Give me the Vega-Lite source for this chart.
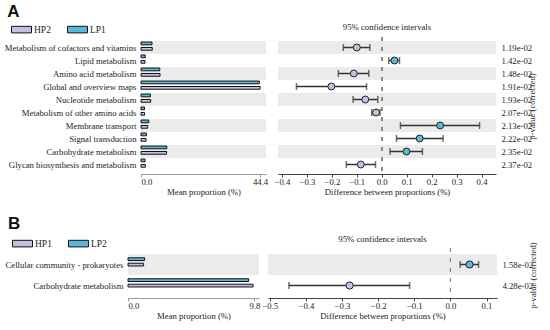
{
  "$schema": "https://vega.github.io/schema/vega-lite/v6.json",
  "padding": {"left": 4, "top": 3, "right": 0, "bottom": 0},
  "background": "white",
  "config": {
    "font": "Liberation Serif",
    "view": {"stroke": null},
    "axis": {"labelFontSize": 8.7, "titleFontSize": 8.7, "titleFontWeight": "normal", "labelColor": "#222", "titleColor": "#222", "grid": false, "labelOverlap": false, "labelSeparation": 0},
    "title": {"font": "Liberation Serif", "fontSize": 8.7, "fontWeight": "normal", "color": "#222"}
  },
  "datasets": {
    "none": [],
    "barsA": [
      {"cat": "Metabolism of cofactors and vitamins", "order": 1, "group": "LP1", "value": 4.1},
      {"cat": "Metabolism of cofactors and vitamins", "order": 1, "group": "HP2", "value": 4.2},
      {"cat": "Lipid metabolism", "order": 2, "group": "LP1", "value": 1.6},
      {"cat": "Lipid metabolism", "order": 2, "group": "HP2", "value": 1.5},
      {"cat": "Amino acid metabolism", "order": 3, "group": "LP1", "value": 7.0},
      {"cat": "Amino acid metabolism", "order": 3, "group": "HP2", "value": 7.1},
      {"cat": "Global and overview maps", "order": 4, "group": "LP1", "value": 44.1},
      {"cat": "Global and overview maps", "order": 4, "group": "HP2", "value": 44.4},
      {"cat": "Nucleotide metabolism", "order": 5, "group": "LP1", "value": 3.5},
      {"cat": "Nucleotide metabolism", "order": 5, "group": "HP2", "value": 3.6},
      {"cat": "Metabolism of other amino acids", "order": 6, "group": "LP1", "value": 1.3},
      {"cat": "Metabolism of other amino acids", "order": 6, "group": "HP2", "value": 1.35},
      {"cat": "Membrane transport", "order": 7, "group": "LP1", "value": 2.9},
      {"cat": "Membrane transport", "order": 7, "group": "HP2", "value": 2.5},
      {"cat": "Signal transduction", "order": 8, "group": "LP1", "value": 2.0},
      {"cat": "Signal transduction", "order": 8, "group": "HP2", "value": 1.9},
      {"cat": "Carbohydrate metabolism", "order": 9, "group": "LP1", "value": 9.6},
      {"cat": "Carbohydrate metabolism", "order": 9, "group": "HP2", "value": 9.5},
      {"cat": "Glycan biosynthesis and metabolism", "order": 10, "group": "LP1", "value": 1.5},
      {"cat": "Glycan biosynthesis and metabolism", "order": 10, "group": "HP2", "value": 1.6}
    ],
    "ciA": [
      {"p": "1.19e-02", "order": 1, "group": "HP2", "diff": -0.100, "lo": -0.154, "hi": -0.048},
      {"p": "1.42e-02", "order": 2, "group": "LP1", "diff": 0.051, "lo": 0.028, "hi": 0.071},
      {"p": "1.48e-02", "order": 3, "group": "HP2", "diff": -0.112, "lo": -0.174, "hi": -0.052},
      {"p": "1.91e-02", "order": 4, "group": "HP2", "diff": -0.202, "lo": -0.342, "hi": -0.061},
      {"p": "1.93e-02", "order": 5, "group": "HP2", "diff": -0.066, "lo": -0.115, "hi": -0.016},
      {"p": "2.07e-02", "order": 6, "group": "HP2", "diff": -0.023, "lo": -0.040, "hi": -0.007},
      {"p": "2.13e-02", "order": 7, "group": "LP1", "diff": 0.234, "lo": 0.075, "hi": 0.392},
      {"p": "2.22e-02", "order": 8, "group": "LP1", "diff": 0.152, "lo": 0.059, "hi": 0.246},
      {"p": "2.35e-02", "order": 9, "group": "LP1", "diff": 0.099, "lo": 0.033, "hi": 0.163},
      {"p": "2.37e-02", "order": 10, "group": "HP2", "diff": -0.084, "lo": -0.142, "hi": -0.025}
    ],
    "barsB": [
      {"cat": "Cellular community - prokaryotes", "order": 1, "group": "LP2", "value": 1.29},
      {"cat": "Cellular community - prokaryotes", "order": 1, "group": "HP1", "value": 1.21},
      {"cat": "Carbohydrate metabolism", "order": 2, "group": "LP2", "value": 9.36},
      {"cat": "Carbohydrate metabolism", "order": 2, "group": "HP1", "value": 9.7}
    ],
    "ciB": [
      {"p": "1.58e-02", "order": 1, "group": "LP2", "diff": 0.053, "lo": 0.027, "hi": 0.078},
      {"p": "4.28e-02", "order": 2, "group": "HP1", "diff": -0.279, "lo": -0.447, "hi": -0.113}
    ]
  },
  "concat": [
    {
      "title": {"text": "A", "anchor": "start", "frame": "bounds", "font": "Liberation Sans", "fontSize": 17, "fontWeight": "bold", "color": "#111", "offset": -2, "dx": 3},
      "bounds": "flush",
      "spacing": 12,
      "resolve": {"scale": {"color": "independent"}, "legend": {"color": "independent"}},
      "hconcat": [
        {"width": 11, "height": 1, "data": {"name": "none"}, "mark": "point", "encoding": {}},
        {
          "width": 125,
          "height": 130,
          "data": {"name": "barsA"},
          "layer": [
            {
              "transform": [{"filter": "datum.order % 2 == 1"}],
              "mark": {"type": "rect", "color": "#ebebeb"},
              "encoding": {
                "y": {"field": "cat", "type": "nominal", "sort": {"field": "order", "op": "min"}, "scale": {"paddingInner": 0, "paddingOuter": 0}, "axis": {"title": null, "domain": false, "ticks": false, "labelPadding": 5}},
                "x": {"datum": 0, "type": "quantitative", "scale": {"domain": [0, 46.6]}},
                "x2": {"datum": 46.6}
              }
            },
            {
              "mark": {"type": "bar", "stroke": "#111", "strokeWidth": 1},
              "encoding": {
                "y": {"field": "cat", "type": "nominal", "sort": {"field": "order", "op": "min"}},
                "yOffset": {"field": "group", "sort": ["LP1", "HP2"], "scale": {"paddingInner": 0, "paddingOuter": 0.38}},
                "x": {"field": "value", "type": "quantitative", "scale": {"domain": [0, 46.6]}, "axis": {"values": [0, 44.4], "format": ".1f", "labelOverlap": false, "title": "Mean proportion (%)", "titlePadding": 2, "offset": 3, "domainColor": "#999", "tickColor": "#999", "tickSize": 3, "labelPadding": 0}},
                "color": {"field": "group", "type": "nominal", "scale": {"domain": ["HP2", "LP1"], "range": ["#c6bfe2", "#58b9dd"]}, "legend": {"orient": "none", "legendX": -130, "legendY": -22, "direction": "horizontal", "title": null, "symbolType": "M-1,-0.33H1V0.33H-1Z", "symbolSize": 400, "symbolStrokeColor": "#111", "symbolStrokeWidth": 1, "symbolOpacity": 1, "labelFontSize": 9.5, "labelColor": "#222", "labelOffset": 2, "columnPadding": 14}}
              }
            }
          ]
        },
        {
          "width": 218,
          "height": 130,
          "title": {"text": "95% confidence intervals", "offset": 4.5},
          "data": {"name": "ciA"},
          "encoding": {
            "y": {"field": "p", "type": "nominal", "sort": "ascending", "scale": {"paddingInner": 0, "paddingOuter": 0}, "axis": {"orient": "right", "title": "p-value (corrected)", "titleAngle": 270, "titlePadding": 5, "domain": false, "ticks": false, "labelPadding": 5}}
          },
          "layer": [
            {
              "transform": [{"filter": "datum.order % 2 == 1"}],
              "mark": {"type": "rect", "color": "#ebebeb"},
              "encoding": {
                "x": {"datum": -0.416, "type": "quantitative", "scale": {"domain": [-0.416, 0.458], "nice": false}, "axis": {"values": [-0.4, -0.3, -0.2, -0.1, 0, 0.1, 0.2, 0.3, 0.4], "tickCount": 9, "format": ".1f", "labelOverlap": false, "title": "Difference between proportions (%)", "titlePadding": 2, "offset": 3, "domainColor": "#444", "tickColor": "#444", "tickSize": 3, "labelPadding": 0}},
                "x2": {"datum": 0.458}
              }
            },
            {
              "mark": {"type": "rule", "color": "#888", "strokeDash": [4, 6], "strokeWidth": 1},
              "encoding": {"x": {"datum": 0, "type": "quantitative"}, "y": {"value": -4}, "y2": {"value": 130}}
            },
            {
              "mark": {"type": "rule", "color": "#333", "strokeWidth": 1.5},
              "encoding": {"x": {"field": "lo", "type": "quantitative", "axis": {"values": [-0.4, -0.3, -0.2, -0.1, 0, 0.1, 0.2, 0.3, 0.4], "tickCount": 9, "format": ".1f", "labelOverlap": false, "title": "Difference between proportions (%)", "titlePadding": 2, "offset": 3, "domainColor": "#444", "tickColor": "#444", "tickSize": 3, "labelPadding": 0}}, "x2": {"field": "hi"}}
            },
            {
              "mark": {"type": "tick", "color": "#333", "thickness": 1.5, "size": 7, "orient": "vertical"},
              "encoding": {"x": {"field": "lo", "type": "quantitative"}}
            },
            {
              "mark": {"type": "tick", "color": "#333", "thickness": 1.5, "size": 7, "orient": "vertical"},
              "encoding": {"x": {"field": "hi", "type": "quantitative"}}
            },
            {
              "mark": {"type": "circle", "size": 48, "stroke": "#222", "strokeWidth": 1, "opacity": 1},
              "encoding": {
                "x": {"field": "diff", "type": "quantitative"},
                "color": {"field": "group", "type": "nominal", "scale": {"domain": ["HP2", "LP1"], "range": ["#c6bfe2", "#58b9dd"]}, "legend": null}
              }
            }
          ]
        }
      ]
    },
    {
      "title": {"text": "B", "anchor": "start", "frame": "bounds", "font": "Liberation Sans", "fontSize": 17, "fontWeight": "bold", "color": "#111", "offset": 0, "dx": 3},
      "bounds": "flush",
      "spacing": 9,
      "resolve": {"scale": {"color": "independent"}, "legend": {"color": "independent"}},
      "hconcat": [
        {"width": 1, "height": 1, "data": {"name": "none"}, "mark": "point", "encoding": {}},
        {
          "width": 131,
          "height": 42,
          "data": {"name": "barsB"},
          "layer": [
            {
              "transform": [{"filter": "datum.order % 2 == 1"}],
              "mark": {"type": "rect", "color": "#ebebeb"},
              "encoding": {
                "y": {"field": "cat", "type": "nominal", "sort": {"field": "order", "op": "min"}, "scale": {"paddingInner": 0, "paddingOuter": 0}, "axis": {"title": null, "domain": false, "ticks": false, "labelPadding": 5}},
                "x": {"datum": 0, "type": "quantitative", "scale": {"domain": [0, 10.16]}},
                "x2": {"datum": 10.16}
              }
            },
            {
              "mark": {"type": "bar", "stroke": "#111", "strokeWidth": 1},
              "encoding": {
                "y": {"field": "cat", "type": "nominal", "sort": {"field": "order", "op": "min"}},
                "yOffset": {"field": "group", "sort": ["LP2", "HP1"], "scale": {"paddingInner": 0, "paddingOuter": 0.5}},
                "x": {"field": "value", "type": "quantitative", "scale": {"domain": [0, 10.16]}, "axis": {"values": [0, 9.8], "format": ".1f", "labelOverlap": false, "title": "Mean proportion (%)", "titlePadding": 2, "offset": 2, "domainColor": "#999", "tickColor": "#999", "tickSize": 3, "labelPadding": 0}},
                "color": {"field": "group", "type": "nominal", "scale": {"domain": ["HP1", "LP2"], "range": ["#c6bfe2", "#58b9dd"]}, "legend": {"orient": "none", "legendX": -116, "legendY": -21, "direction": "horizontal", "title": null, "symbolType": "M-1,-0.33H1V0.33H-1Z", "symbolSize": 400, "symbolStrokeColor": "#111", "symbolStrokeWidth": 1, "symbolOpacity": 1, "labelFontSize": 9.5, "labelColor": "#222", "labelOffset": 2, "columnPadding": 14}}
              }
            }
          ]
        },
        {
          "width": 229,
          "height": 42,
          "title": {"text": "95% confidence intervals", "offset": -2},
          "data": {"name": "ciB"},
          "encoding": {
            "y": {"field": "p", "type": "nominal", "sort": "ascending", "scale": {"paddingInner": 0, "paddingOuter": 0}, "axis": {"orient": "right", "title": "p-value (corrected)", "titleAngle": 270, "titlePadding": 5, "domain": false, "ticks": false, "labelPadding": 5}}
          },
          "layer": [
            {
              "transform": [{"filter": "datum.order % 2 == 1"}],
              "mark": {"type": "rect", "color": "#ebebeb"},
              "encoding": {
                "x": {"datum": -0.505, "type": "quantitative", "scale": {"domain": [-0.505, 0.129], "nice": false}, "axis": {"values": [-0.5, -0.4, -0.3, -0.2, -0.1, 0, 0.1], "tickCount": 7, "format": ".1f", "labelOverlap": false, "title": "Difference between proportions (%)", "titlePadding": 2, "offset": 2, "domainColor": "#444", "tickColor": "#444", "tickSize": 3, "labelPadding": 0}},
                "x2": {"datum": 0.129}
              }
            },
            {
              "mark": {"type": "rule", "color": "#888", "strokeDash": [4, 6], "strokeWidth": 1},
              "encoding": {"x": {"datum": 0, "type": "quantitative"}, "y": {"value": -6}, "y2": {"value": 42}}
            },
            {
              "mark": {"type": "rule", "color": "#333", "strokeWidth": 1.5},
              "encoding": {"x": {"field": "lo", "type": "quantitative", "axis": {"values": [-0.5, -0.4, -0.3, -0.2, -0.1, 0, 0.1], "tickCount": 7, "format": ".1f", "labelOverlap": false, "title": "Difference between proportions (%)", "titlePadding": 2, "offset": 2, "domainColor": "#444", "tickColor": "#444", "tickSize": 3, "labelPadding": 0}}, "x2": {"field": "hi"}}
            },
            {
              "mark": {"type": "tick", "color": "#333", "thickness": 1.5, "size": 7, "orient": "vertical"},
              "encoding": {"x": {"field": "lo", "type": "quantitative"}}
            },
            {
              "mark": {"type": "tick", "color": "#333", "thickness": 1.5, "size": 7, "orient": "vertical"},
              "encoding": {"x": {"field": "hi", "type": "quantitative"}}
            },
            {
              "mark": {"type": "circle", "size": 52, "stroke": "#222", "strokeWidth": 1, "opacity": 1},
              "encoding": {
                "x": {"field": "diff", "type": "quantitative"},
                "color": {"field": "group", "type": "nominal", "scale": {"domain": ["HP1", "LP2"], "range": ["#c6bfe2", "#58b9dd"]}, "legend": null}
              }
            }
          ]
        }
      ]
    }
  ],
  "columns": 1,
  "spacing": 18,
  "align": "none",
  "resolve": {"scale": {"color": "independent"}, "legend": {"color": "independent"}}
}
